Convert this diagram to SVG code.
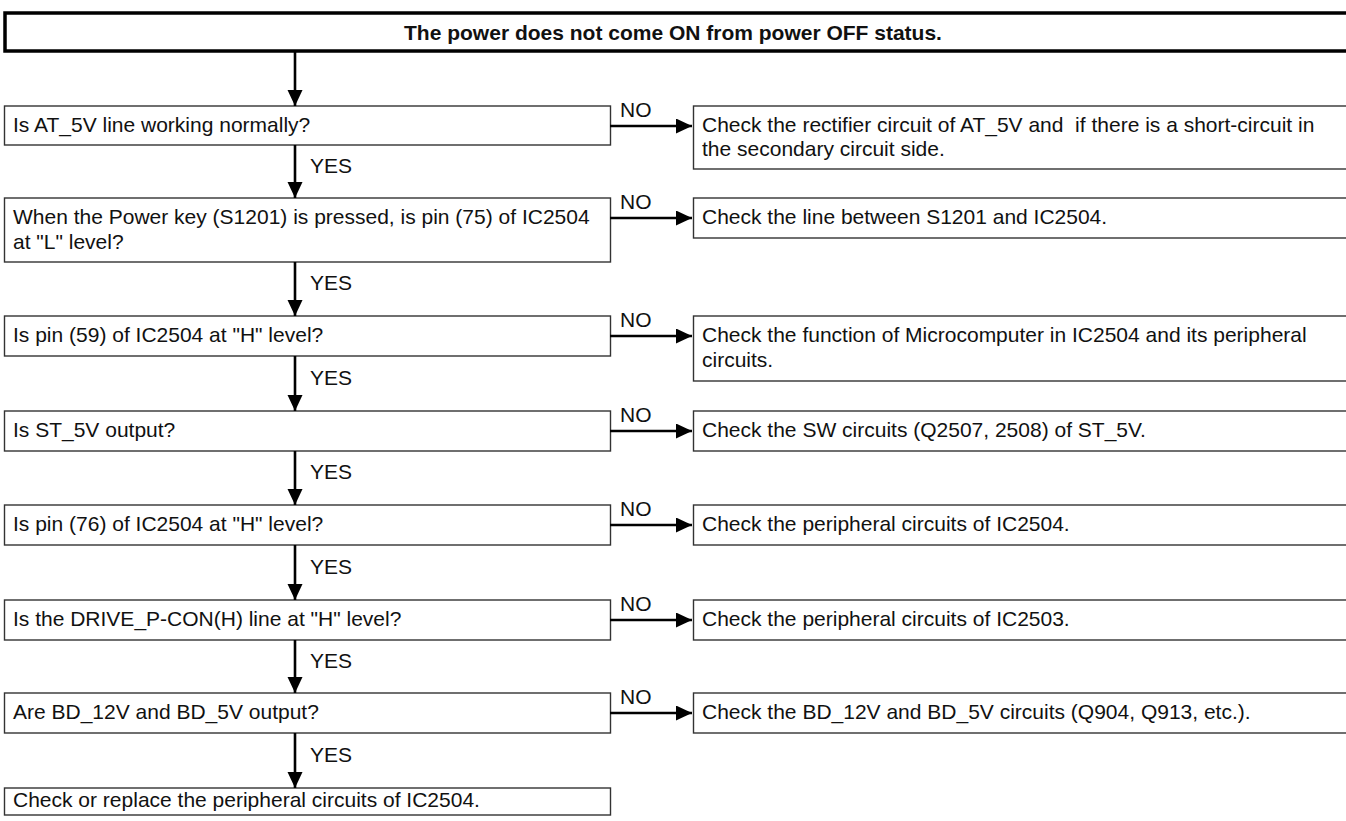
<svg xmlns="http://www.w3.org/2000/svg" width="1346" height="821" viewBox="0 0 1346 821">
  <style>
    text { font-family: "Liberation Sans", Arial, sans-serif; font-size: 21px; fill: #111; white-space: pre; }
    .title { font-weight: bold; text-anchor: middle; }
    .box { fill: #fff; stroke: #333; stroke-width: 1.4; }
    .head { fill: #fff; stroke: #000; stroke-width: 3.5; }
    .flow { stroke: #000; stroke-width: 2.6; fill: none; marker-end: url(#arrow); }
  </style>
  <defs>
    <marker id="arrow" markerUnits="userSpaceOnUse" markerWidth="17" markerHeight="16" refX="16" refY="7.5" orient="auto">
      <path d="M0,0 L16,7.5 L0,15 Z" fill="#000"/>
    </marker>
  </defs>
  <rect width="1346" height="821" fill="#fff"/>

  <!-- start condition -->
  <g id="start">
    <rect class="head" x="5" y="13" width="1400" height="38"/>
    <text class="title" x="673" y="40">The power does not come ON from power OFF status.</text>
  </g>

  <!-- decision boxes (left column) -->
  <g id="q1">
    <rect class="box" x="4.5" y="106" width="606" height="39"/>
    <text x="13" y="132">Is AT_5V line working normally?</text>
  </g>
  <g id="q2">
    <rect class="box" x="4.5" y="198" width="606" height="64"/>
    <text x="13" y="224">When the Power key (S1201) is pressed, is pin (75) of IC2504</text>
    <text x="13" y="249">at "L" level?</text>
  </g>
  <g id="q3">
    <rect class="box" x="4.5" y="316" width="606" height="40"/>
    <text x="13" y="342">Is pin (59) of IC2504 at "H" level?</text>
  </g>
  <g id="q4">
    <rect class="box" x="4.5" y="411" width="606" height="40"/>
    <text x="13" y="437">Is ST_5V output?</text>
  </g>
  <g id="q5">
    <rect class="box" x="4.5" y="505" width="606" height="40"/>
    <text x="13" y="531">Is pin (76) of IC2504 at "H" level?</text>
  </g>
  <g id="q6">
    <rect class="box" x="4.5" y="600" width="606" height="40"/>
    <text x="13" y="626">Is the DRIVE_P-CON(H) line at "H" level?</text>
  </g>
  <g id="q7">
    <rect class="box" x="4.5" y="693" width="606" height="40"/>
    <text x="13" y="719">Are BD_12V and BD_5V output?</text>
  </g>
  <g id="end">
    <rect class="box" x="4.5" y="788" width="606" height="27"/>
    <text x="13" y="807">Check or replace the peripheral circuits of IC2504.</text>
  </g>

  <!-- action boxes (right column) -->
  <g id="a1">
    <rect class="box" x="693.5" y="106" width="700" height="63"/>
    <text x="702" y="132">Check the rectifier circuit of AT_5V and  if there is a short-circuit in</text>
    <text x="702" y="156">the secondary circuit side.</text>
  </g>
  <g id="a2">
    <rect class="box" x="693.5" y="198" width="700" height="40"/>
    <text x="702" y="224">Check the line between S1201 and IC2504.</text>
  </g>
  <g id="a3">
    <rect class="box" x="693.5" y="316" width="700" height="65"/>
    <text x="702" y="342">Check the function of Microcomputer in IC2504 and its peripheral</text>
    <text x="702" y="367">circuits.</text>
  </g>
  <g id="a4">
    <rect class="box" x="693.5" y="411" width="700" height="40"/>
    <text x="702" y="437">Check the SW circuits (Q2507, 2508) of ST_5V.</text>
  </g>
  <g id="a5">
    <rect class="box" x="693.5" y="505" width="700" height="40"/>
    <text x="702" y="531">Check the peripheral circuits of IC2504.</text>
  </g>
  <g id="a6">
    <rect class="box" x="693.5" y="600" width="700" height="40"/>
    <text x="702" y="626">Check the peripheral circuits of IC2503.</text>
  </g>
  <g id="a7">
    <rect class="box" x="693.5" y="693" width="700" height="40"/>
    <text x="702" y="719">Check the BD_12V and BD_5V circuits (Q904, Q913, etc.).</text>
  </g>

  <!-- connectors -->
  <g id="connectors">
    <line class="flow" x1="295" y1="51" x2="295" y2="106"/>
    <line class="flow" x1="295" y1="145" x2="295" y2="198"/>
    <line class="flow" x1="295" y1="262" x2="295" y2="316"/>
    <line class="flow" x1="295" y1="356" x2="295" y2="411"/>
    <line class="flow" x1="295" y1="451" x2="295" y2="505"/>
    <line class="flow" x1="295" y1="545" x2="295" y2="600"/>
    <line class="flow" x1="295" y1="640" x2="295" y2="693"/>
    <line class="flow" x1="295" y1="733" x2="295" y2="788"/>

    <line class="flow" x1="610" y1="126" x2="692" y2="126"/>
    <line class="flow" x1="610" y1="218" x2="692" y2="218"/>
    <line class="flow" x1="610" y1="336" x2="692" y2="336"/>
    <line class="flow" x1="610" y1="431" x2="692" y2="431"/>
    <line class="flow" x1="610" y1="525" x2="692" y2="525"/>
    <line class="flow" x1="610" y1="620" x2="692" y2="620"/>
    <line class="flow" x1="610" y1="713" x2="692" y2="713"/>

    <text x="310" y="173">YES</text>
    <text x="310" y="290">YES</text>
    <text x="310" y="385">YES</text>
    <text x="310" y="479">YES</text>
    <text x="310" y="574">YES</text>
    <text x="310" y="668">YES</text>
    <text x="310" y="762">YES</text>

    <text x="620" y="117">NO</text>
    <text x="620" y="209">NO</text>
    <text x="620" y="327">NO</text>
    <text x="620" y="422">NO</text>
    <text x="620" y="516">NO</text>
    <text x="620" y="611">NO</text>
    <text x="620" y="704">NO</text>
  </g>
</svg>
